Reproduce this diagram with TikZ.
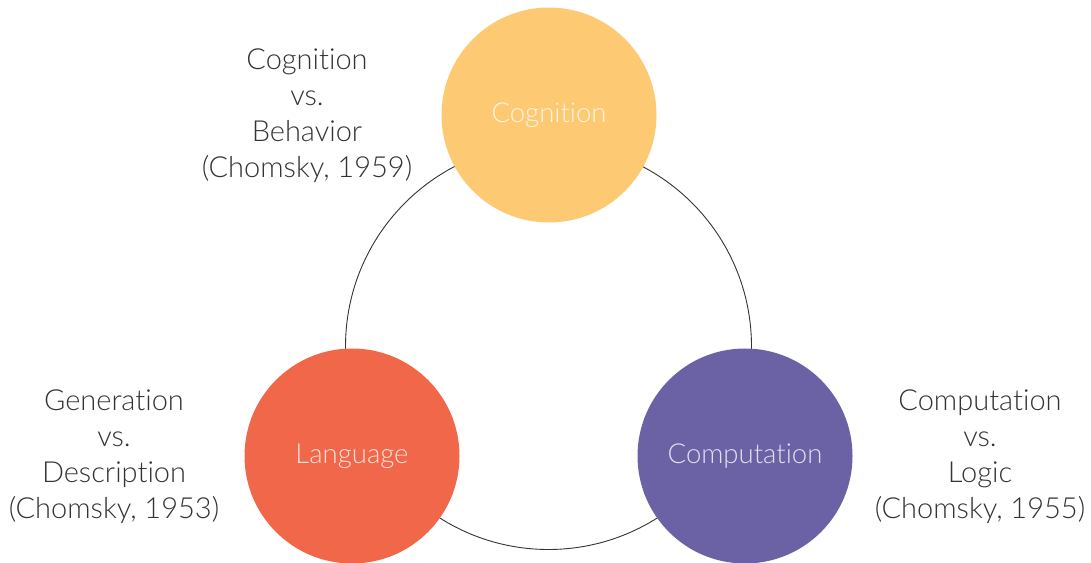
\documentclass[tikz,border=0pt]{standalone}
\usepackage{fontspec}
\setmainfont{Lato Light}[Ligatures=NoCommon]
\begin{document}
\begin{tikzpicture}[x=1pt,y=1pt,
  topic/.style={circle,minimum size=215pt,inner sep=0pt,
    font=\fontsize{27.5}{30}\selectfont,text=white,text opacity=0.8},
  caption/.style={align=center,text=black!80,font=\fontsize{29}{36}\selectfont},
  ring/.style={circle,draw=black!80,line width=0.9pt,minimum size=406pt,inner sep=0pt}]
\useasboundingbox (0,0) rectangle (1091,562);
\definecolor{cogcol}{HTML}{FDCA73}
\definecolor{langcol}{HTML}{F0674A}
\definecolor{compcol}{HTML}{6B62A5}
% connecting ring behind the three topics
\node[ring] (ring) at (548.5,215.5) {};
% the three topics
\node[topic,fill=cogcol] (cog) at (549,447) {\raisebox{-2pt}{Cognition}};
\node[topic,fill=langcol] (lang) at (352,106) {\raisebox{-2pt}{Language}};
\node[topic,fill=compcol] (comp) at (745,106) {\raisebox{-2pt}{Computation}};
% captions
\node[caption] (capcog) at (307,446) {Cognition\\vs.\\Behavior\\(Chomsky, 1959)};
\node[caption] (caplang) at (114,105) {Generation\\vs.\\Description\\(Chomsky, 1953)};
\node[caption] (capcomp) at (980,105) {Computation\\vs.\\Logic\\(Chomsky, 1955)};
\end{tikzpicture}
\end{document}
